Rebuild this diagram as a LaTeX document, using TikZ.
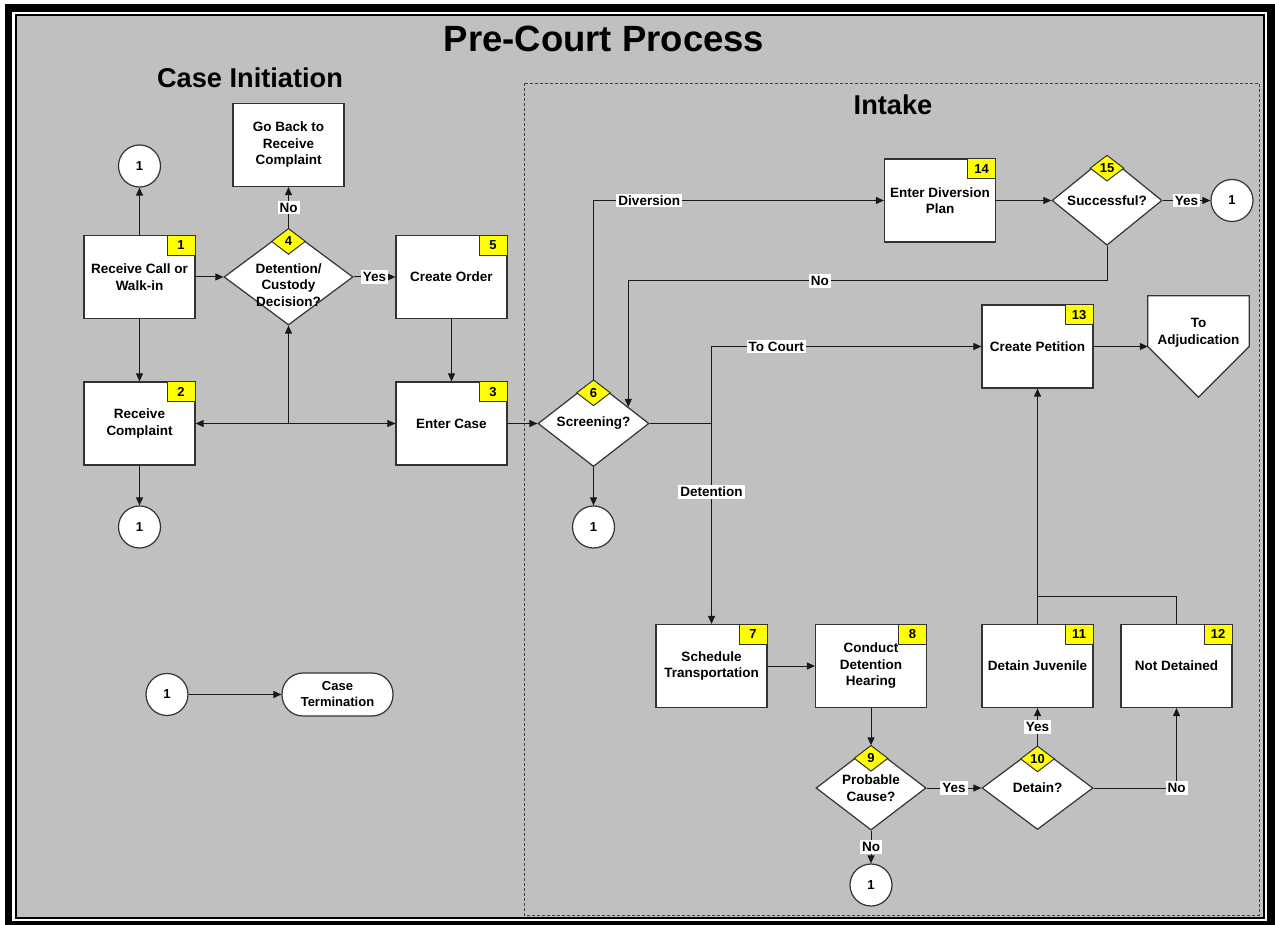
\documentclass[tikz,border=0pt]{standalone}
\usepackage{fontspec}
\setmainfont{Liberation Sans}
\usetikzlibrary{arrows.meta,shapes.geometric,calc}
\definecolor{bggray}{HTML}{C0C0C0}
\definecolor{badgeyellow}{HTML}{FFFF00}
\newcommand{\myfont}{\fontsize{13.5}{16.5}\selectfont\bfseries}
\newcommand{\numfont}{\fontsize{13}{15}\selectfont\bfseries}
\tikzset{
  proc/.style={rectangle, draw=black!80, line width=1.2pt, fill=white, minimum width=111pt, minimum height=83pt, inner sep=0pt, align=center, font=\myfont},
  dec/.style={diamond, draw=black!80, line width=1.2pt, fill=white, inner sep=0pt, align=center, font=\myfont},
  conn/.style={circle, draw=black!80, line width=1.2pt, fill=white, minimum size=42pt, inner sep=0pt, font=\numfont},
  nbox/.style={rectangle, draw=black!80, line width=1pt, fill=badgeyellow, minimum width=28pt, minimum height=20pt, inner sep=0pt, font=\numfont, anchor=north east},
  ndia/.style={diamond, draw=black!80, line width=1pt, fill=badgeyellow, minimum width=34pt, minimum height=26pt, inner sep=0pt, font=\numfont},
  lab/.style={fill=white, inner sep=2pt, font=\myfont},
  arr/.style={draw=black!90, line width=1pt, -{Triangle[length=8pt,width=7pt]}},
  ln/.style={draw=black!90, line width=1pt},
  txt/.style={font=\myfont, align=center, inner sep=0pt},
}
\begin{document}
\begin{tikzpicture}[x=1pt,y=-1pt]
\useasboundingbox (0,0) rectangle (1275,925);
% frame
\fill[white] (0,0) rectangle (1275,925);
\fill[black] (5,4) rectangle (1275,925);
\fill[white] (12,12) rectangle (1267,921);
\fill[black] (14.5,14.5) rectangle (1264.5,918.5);
\fill[bggray] (16.5,16.5) rectangle (1262.5,916.5);
% intake region
\draw[black!75, line width=0.8pt, dash pattern=on 3pt off 2pt] (524,83) rectangle (1259,915);
% titles
\node[font=\fontsize{36.5}{40}\selectfont\bfseries] (title) at (604,39) {Pre-Court Process};
\node[font=\fontsize{27.2}{30}\selectfont\bfseries] (tci) at (250,78) {Case Initiation};
\node[font=\fontsize{27.2}{30}\selectfont\bfseries] (tin) at (893,105) {Intake};

% Case initiation nodes
\node[proc] (b1) at (139.5,277) {Receive Call or\\Walk-in};
\node[nbox] (b1n) at (b1.north east) {1};
\node[proc] (gb) at (288.5,145) {Go Back to\\Receive\\Complaint};
\node[dec, minimum width=129pt, minimum height=96pt] (d4) at (288.5,277) {};
\node[txt] (d4t) at (288.5,285) {Detention/\\Custody\\Decision?};
\node[ndia] (d4n) at ($(d4.north)+(0,13)$) {4};
\node[proc] (b5) at (451.5,277) {Create Order};
\node[nbox] (b5n) at (b5.north east) {5};
\node[proc] (b2) at (139.5,423.5) {Receive\\Complaint};
\node[nbox] (b2n) at (b2.north east) {2};
\node[proc] (b3) at (451.5,423.5) {Enter Case};
\node[nbox] (b3n) at (b3.north east) {3};
\node[conn] (c1t) at (139.5,166) {1};
\node[conn] (c1b) at (139.5,527) {1};
\node[conn] (cl) at (167,694.5) {1};
\node[rectangle, rounded corners=21pt, draw=black!80, line width=1.2pt, fill=white, minimum width=111pt, minimum height=43pt, inner sep=0pt, align=center, font=\fontsize{13}{16}\selectfont\bfseries] (ct) at (337.5,694.5) {Case\\Termination};

% Intake nodes
\node[dec, minimum width=111pt, minimum height=82pt] (d6) at (593.5,423.5) {Screening?};
\node[ndia] (d6n) at ($(d6.north)+(0,13)$) {6};
\node[conn] (c6) at (593.5,527) {1};
\node[proc] (b14) at (940,200.5) {Enter Diversion\\Plan};
\node[nbox] (b14n) at (b14.north east) {14};
\node[dec, minimum width=110pt, minimum height=83pt] (d15) at (1107,200.5) {Successful?};
\node[ndia] (d15n) at ($(d15.north)+(0,13)$) {15};
\node[conn] (c15) at (1232,200.5) {1};
\node[proc] (b13) at (1037.5,346.5) {Create Petition};
\node[nbox] (b13n) at (b13.north east) {13};
\node[minimum width=101pt, minimum height=101pt, inner sep=0pt] (adj) at (1198.5,346.5) {};
\draw[draw=black!80, line width=1.2pt, fill=white] (adj.north west) -- (adj.north east) -- (adj.east) -- (adj.south) -- (adj.west) -- cycle;
\node[txt] (adjt) at (1198.5,333) {To\\Adjudication};
\node[proc] (b7) at (711.5,666) {Schedule\\Transportation};
\node[nbox] (b7n) at (b7.north east) {7};
\node[proc] (b8) at (871,666) {Conduct\\Detention\\Hearing};
\node[nbox] (b8n) at (b8.north east) {8};
\node[dec, minimum width=110pt, minimum height=82pt] (d9) at (871,788) {Probable\\Cause?};
\node[ndia] (d9n) at ($(d9.north)+(0,13)$) {9};
\node[conn] (c9) at (871,885) {1};
\node[dec, minimum width=111pt, minimum height=83pt] (d10) at (1037.5,788) {Detain?};
\node[ndia] (d10n) at ($(d10.north)+(0,13)$) {10};
\node[proc] (b11) at (1037.5,666) {Detain Juvenile};
\node[nbox] (b11n) at (b11.north east) {11};
\node[proc] (b12) at (1176.5,666) {Not Detained};
\node[nbox] (b12n) at (b12.north east) {12};

% coordinates
\coordinate (J) at (d4.south |- b3.west);
\coordinate (J2) at (b7.north |- d6.east);
\coordinate (J3) at ($(b11.north)+(0,-27)$);
\coordinate (n6) at ($(d6.north)!0.62!(d6.east)$);

% connectors - case initiation
\draw[arr] (b1.north) -- (c1t.south);
\draw[arr] (b1.east) -- (d4.west);
\draw[arr] (d4.north) -- node[lab]{No} (gb.south);
\draw[arr] (d4.east) -- node[lab]{Yes} (b5.west);
\draw[arr] (b1.south) -- (b2.north);
\draw[arr] (b2.south) -- (c1b.north);
\draw[arr] (b5.south) -- (b3.north);
\draw[arr] (J) -- (b2.east);
\draw[arr] (J) -- (b3.west);
\draw[arr] (J) -- (d4.south);
\draw[arr] (b3.east) -- (d6.west);
\draw[arr] (cl.east) -- (ct.west);

% connectors - intake
\draw[arr] (d6.north) |- node[lab,pos=0.596]{Diversion} (b14.west);
\draw[arr] (b14.east) -- (d15.west);
\draw[arr] (d15.east) -- node[lab]{Yes} (c15.west);
\draw[arr] (d15.south) -- ++(0,35) -| node[lab,pos=0.3]{No} (n6);
\draw[ln] (d6.east) -- (J2);
\draw[arr] (J2) |- node[lab,pos=0.62]{To Court} (b13.west);
\draw[arr] (J2) -- node[lab,pos=0.34]{Detention} (b7.north);
\draw[arr] (d6.south) -- (c6.north);
\draw[arr] (b13.east) -- (adj.west);
\draw[arr] (b7.east) -- (b8.west);
\draw[arr] (b8.south) -- (d9.north);
\draw[arr] (d9.south) -- node[lab]{No} (c9.north);
\draw[arr] (d9.east) -- node[lab]{Yes} (d10.west);
\draw[arr] (d10.north) -- node[lab]{Yes} (b11.south);
\draw[arr] (d10.east) -| node[lab,pos=0.5]{No} (b12.south);
\draw[ln] (b12.north) |- (J3) -- (b11.north);
\draw[arr] (J3) -- (b13.south);
\end{tikzpicture}
\end{document}
